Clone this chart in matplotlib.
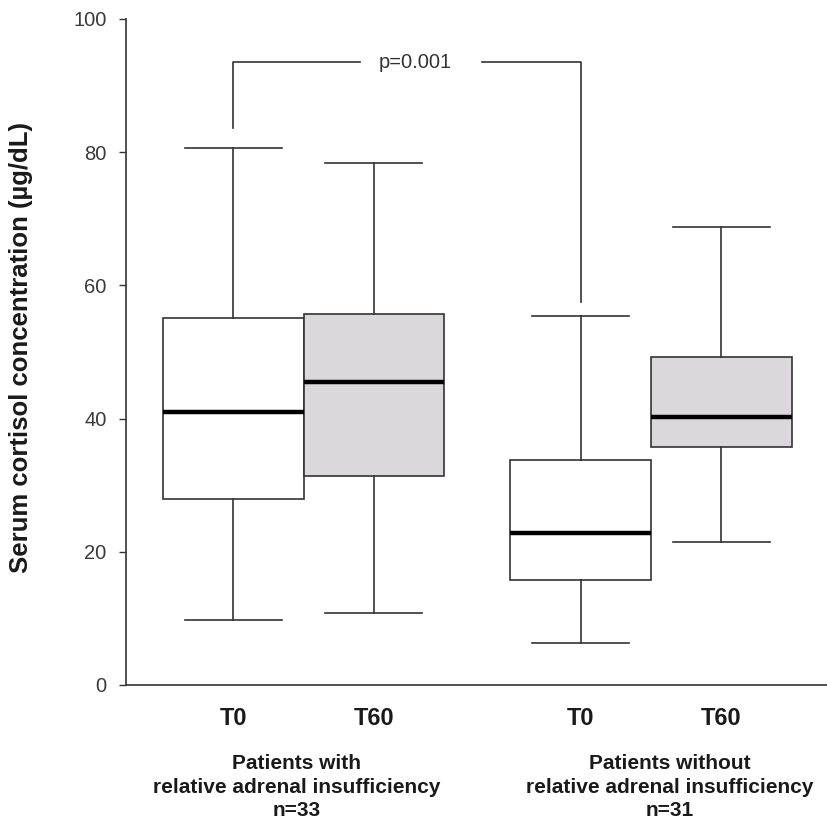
import matplotlib.pyplot as plt

plt.rcParams["font.family"] = ["Liberation Sans", "DejaVu Sans"]

# box statistics (serum cortisol, ug/dL)
labels = ["T0", "T60", "T0", "T60"]
whislo = [9.8, 10.8, 6.3, 21.5]
q1 = [27.9, 31.4, 15.8, 35.7]
med = [41.0, 45.5, 22.8, 40.2]
q3 = [55.1, 55.7, 33.8, 49.2]
whishi = [80.6, 78.4, 55.4, 68.8]
fills = ["white", "#dad8da", "white", "#dad8da"]

groups = ["Patients with\nrelative adrenal insufficiency\nn=33",
          "Patients without\nrelative adrenal insufficiency\nn=31"]
p_text = "p=0.001"
bracket_top = 93.5
bracket_left_low = 83.6
bracket_right_low = 57.5

positions = [1, 2, 3.47, 4.47]
edge = "#333333"

fig = plt.figure(figsize=(8.27, 8.25), dpi=100)
ax = fig.add_axes([0.1524, 0.1697, 0.8476, 0.8073])

stats = []
for i in range(len(labels)):
    stats.append({"label": labels[i], "whislo": whislo[i], "q1": q1[i], "med": med[i],
                  "q3": q3[i], "whishi": whishi[i], "fliers": []})

bp = ax.bxp(stats, positions=positions, widths=1.0, capwidths=0.69, patch_artist=True,
            showfliers=False,
            boxprops=dict(edgecolor=edge, linewidth=1.2),
            whiskerprops=dict(color=edge, linewidth=1.2),
            capprops=dict(color=edge, linewidth=1.2),
            medianprops=dict(color="black", linewidth=3.2, solid_capstyle="butt"))
for patch, c in zip(bp["boxes"], fills):
    patch.set_facecolor(c)

# significance bracket between the two T0 boxes
x1, x2 = positions[0], positions[2]
ax.plot([x1, x1, 1.9], [bracket_left_low, bracket_top, bracket_top], color=edge, lw=1.2)
ax.plot([2.77, x2, x2], [bracket_top, bracket_top, bracket_right_low], color=edge, lw=1.2)
ax.text(2.29, bracket_top, p_text, ha="center", va="center", fontsize=14.5, color="#333333")

ax.set_xlim(0.238, 5.22)
ax.set_ylim(0, 100)
ax.set_yticks([0, 20, 40, 60, 80, 100])
ax.tick_params(axis="y", direction="out", length=5, width=1, color=edge, pad=9,
               labelsize=14.5, labelcolor="#3a3a3a")
ax.tick_params(axis="x", length=0, pad=16, labelsize=17)
for t in ax.get_xticklabels():
    t.set_fontweight("bold")
    t.set_color("#1a1a1a")

for s in ["top", "right"]:
    ax.spines[s].set_visible(False)
for s in ["left", "bottom"]:
    ax.spines[s].set_color(edge)
    ax.spines[s].set_linewidth(1.2)

ax.set_ylabel("Serum cortisol concentration (µg/dL)", fontsize=18.5, fontweight="bold",
              color="#1a1a1a")
ax.yaxis.set_label_coords(-0.133, 0.506)

for xg, txt in zip([1.45, 4.1], groups):
    ax.text(xg, -10.4, txt, ha="center", va="top", fontsize=15, fontweight="bold",
            color="#1a1a1a", linespacing=1.3, clip_on=False)

fig.savefig("out.png", dpi=100)
